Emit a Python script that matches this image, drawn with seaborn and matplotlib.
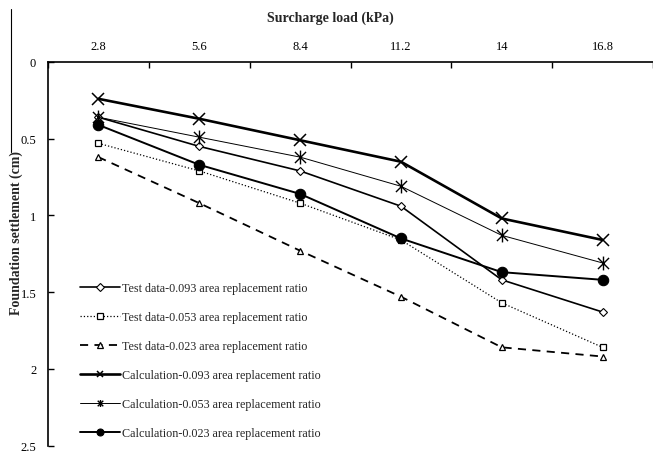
import numpy as np
import pandas as pd
import matplotlib
matplotlib.use("Agg")
import matplotlib.pyplot as plt
from matplotlib.lines import Line2D
from matplotlib.path import Path
import seaborn as sns

# Surcharge load steps (kPa) and settlement readings (cm)
loads = ["2.8", "5.6", "8.4", "11.2", "14", "16.8"]
test_093 = [0.36, 0.55, 0.71, 0.94, 1.42, 1.63]
test_053 = [0.53, 0.71, 0.92, 1.16, 1.57, 1.86]
test_023 = [0.62, 0.92, 1.23, 1.53, 1.86, 1.92]
calc_093 = [0.24, 0.37, 0.51, 0.65, 1.02, 1.16]
calc_053 = [0.36, 0.49, 0.62, 0.81, 1.13, 1.31]
calc_023 = [0.41, 0.67, 0.86, 1.15, 1.37, 1.42]

labels = [
    "Test data-0.093 area replacement ratio",
    "Test data-0.053 area replacement ratio",
    "Test data-0.023 area replacement ratio",
    "Calculation-0.093 area replacement ratio",
    "Calculation-0.053 area replacement ratio",
    "Calculation-0.023 area replacement ratio",
]

sns.set_theme(style="white")
plt.rcParams["font.family"] = ["Liberation Serif", "DejaVu Serif"]

# asterisk marker: an X crossed by a vertical bar
star_path = Path(
    [(-1, -1), (1, 1), (-1, 1), (1, -1), (0, -1.25), (0, 1.25)],
    [Path.MOVETO, Path.LINETO, Path.MOVETO, Path.LINETO, Path.MOVETO, Path.LINETO],
)

styles = [
    dict(marker="D", ms=3.6, mfc="white", mec="black", mew=0.8, lw=1.2, ls="-"),
    dict(marker="s", ms=4.2, mfc="white", mec="black", mew=0.9, lw=0.9, ls=":"),
    dict(marker="^", ms=4.2, mfc="white", mec="black", mew=0.9, lw=1.3, ls=(0, (4.5, 3.5))),
    dict(marker="x", ms=9.0, mfc="black", mec="black", mew=1.1, lw=1.9, ls="-"),
    dict(marker=star_path, ms=10.0, mfc="black", mec="black", mew=1.0, lw=0.7, ls="-"),
    dict(marker="o", ms=7.5, mfc="black", mec="black", mew=0.8, lw=1.4, ls="-"),
]
legend_ms = [3.6, 4.2, 4.2, 4.5, 5.0, 5.0]

series = [test_093, test_053, test_023, calc_093, calc_053, calc_023]

fig = plt.figure(figsize=(6.53, 4.56), dpi=100)
ax = fig.add_axes([48 / 653, 1 - 446.5 / 456, 605 / 653, 383.5 / 456])

xpos = np.arange(len(loads))
for vals, lab, st in zip(series, labels, styles):
    df = pd.DataFrame({"load": xpos, "settlement": vals})
    st = dict(st)
    ls = st.pop("ls")
    sns.lineplot(data=df, x="load", y="settlement", ax=ax, color="black",
                 linestyle=ls, label=lab, errorbar=None, sort=False, **st)

# axes: categorical load on top, settlement increasing downward
ax.set_xlim(-0.5, len(loads) - 0.5)
ax.set_ylim(2.5, 0)
ax.xaxis.tick_top()
ax.xaxis.set_label_position("top")
ax.set_xticks(xpos)
ax.set_xticklabels(loads)
ax.set_xticks(np.arange(-0.5, len(loads), 1.0), minor=True)
ax.tick_params(axis="x", which="major", length=0, pad=7, labelsize=9, colors="black")
ax.tick_params(axis="x", which="minor", direction="in", length=4, width=1, color="black")
yt = np.arange(0, 2.51, 0.5)
ax.set_yticks(yt)
ax.set_yticklabels([f"{v:g}" for v in yt])
ax.tick_params(axis="y", direction="in", length=4, width=1, pad=8.5, labelsize=9,
               colors="black", left=True)

for side in ["bottom", "right"]:
    ax.spines[side].set_visible(False)
for side in ["left", "top"]:
    ax.spines[side].set_color("black")
    ax.spines[side].set_linewidth(1.2)
ax.grid(False)

ax.set_xlabel("Surcharge load (kPa)", fontsize=10, fontweight="bold")
ax.xaxis.set_label_coords((330 - 48) / 605, (446.5 - 18) / 383.5)
ax.xaxis.label.set_va("center")
ax.set_ylabel("Foundation settlement (cm)", fontsize=10, fontweight="bold")
ax.yaxis.set_label_coords((16 - 48) / 605, (446.5 - 233) / 383.5)
ax.yaxis.label.set_va("center")

leg = ax.legend(loc="center left", bbox_to_anchor=((80 - 48) / 605, (446.5 - 361.5) / 383.5),
                frameon=False, fontsize=8.7, borderpad=0, borderaxespad=0,
                handlelength=3.3, handletextpad=0.15, labelspacing=1.4)
for h, ms in zip(leg.legend_handles, legend_ms):
    h.set_markersize(ms)

# thin border fragment at the left edge of the figure
fig.add_artist(Line2D([11 / 653, 11 / 653], [1 - 10 / 456, 1 - 153 / 456],
                      transform=fig.transFigure, color="black", lw=0.8))

fig.savefig("out.png", dpi=100)
